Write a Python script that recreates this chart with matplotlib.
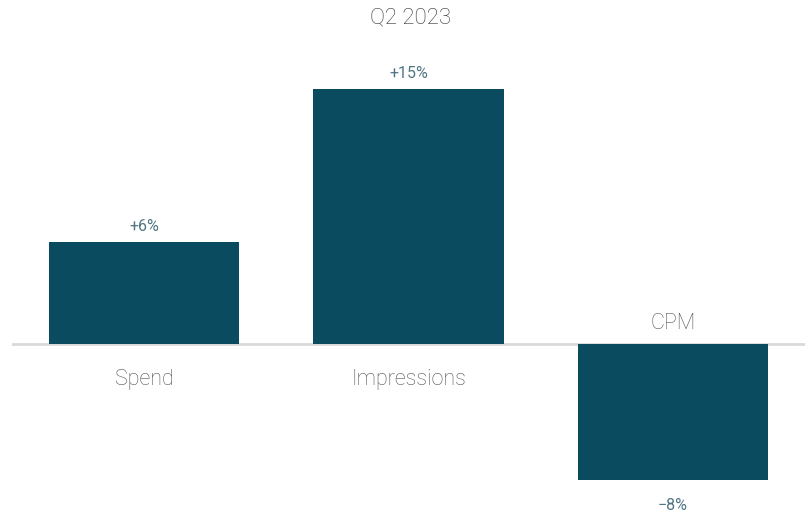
import matplotlib
matplotlib.use("Agg")
import matplotlib.pyplot as plt

categories = ["Spend", "Impressions", "CPM"]
changes = [6, 15, -8]
value_labels = ["+6%", "+15%", "\u22128%"]
title = "Q2 2023"

plt.rcParams['font.family'] = ['Roboto', 'DejaVu Sans']

fig = plt.figure(figsize=(8.09, 5.14), dpi=100)
ax = fig.add_axes([12 / 809, 0, 793 / 809, 1])
ax.set_xlim(-0.5, 2.5)
ax.set_ylim(-10.0, 20.24)
ax.axis("off")

bar_color = "#0a4b5f"
label_color = "#4f7683"
cat_color = "#555555"

x = list(range(len(categories)))
ax.bar(x, changes, width=0.72, color=bar_color, zorder=2)
ax.axhline(0, color="#d9d9d9", linewidth=2, zorder=1)

for xi, v, lab, cat in zip(x, changes, value_labels, categories):
    if v >= 0:
        ax.annotate(lab, (xi, v), xytext=(0, 11.0), textcoords="offset points",
                    ha="center", va="center", fontsize=11.5, color=label_color)
        ax.annotate(cat, (xi, 0), xytext=(0, -25.2), textcoords="offset points",
                    ha="center", va="center", fontsize=15.5, color=cat_color,
                    fontweight="light")
    else:
        ax.annotate(lab, (xi, v), xytext=(0, -18.5), textcoords="offset points",
                    ha="center", va="center", fontsize=11.5, color=label_color)
        ax.annotate(cat, (xi, 0), xytext=(0, 14.8), textcoords="offset points",
                    ha="center", va="center", fontsize=15.5, color=cat_color,
                    fontweight="light")

fig.text(411 / 809, 1 - 18 / 514, title, ha="center", va="center",
         fontsize=16, color="#333333", fontweight="light")

fig.savefig("out.png", dpi=100, facecolor="white")
